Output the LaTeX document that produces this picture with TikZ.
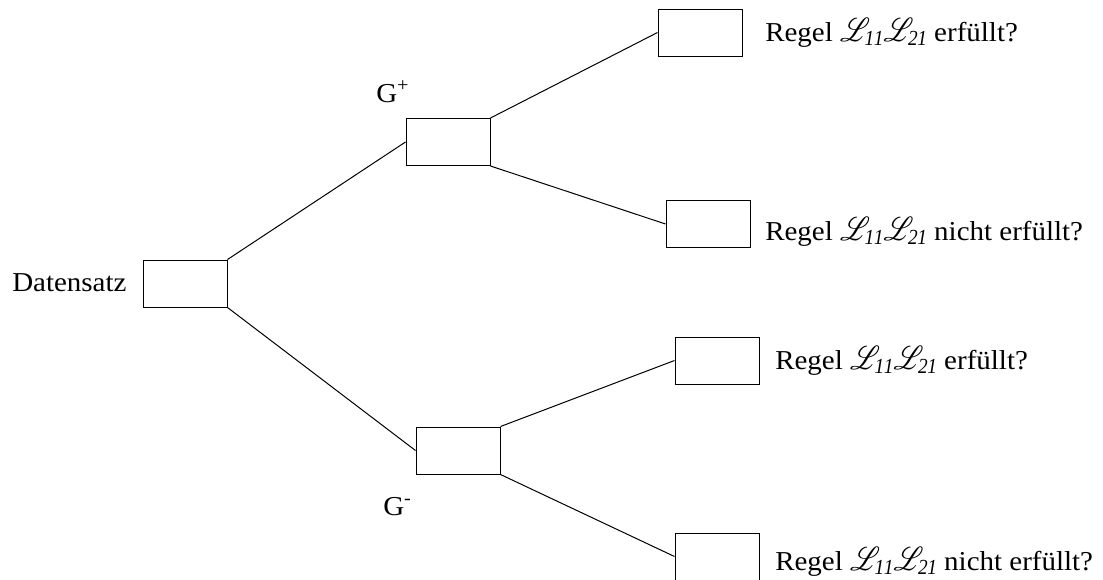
\documentclass[tikz,border=0pt]{standalone}
\usepackage{fontspec}
\setmainfont{Liberation Serif}[FakeStretch=1.06]
\usepackage{mathrsfs}
\newcommand{\regelLL}{Regel \scalebox{0.85}[1]{\fontsize{23}{24}\selectfont$\mathscr{L}_{\mathit{11}}\mathscr{L}_{\mathit{21}}$}}
\begin{document}
\begin{tikzpicture}[x=0.75pt,y=-0.75pt,
  box/.style={draw=black,line width=0.75pt,minimum width=63pt,minimum height=35.25pt,inner sep=0pt},
  edge/.style={draw=black,line width=0.75pt},
  lbl/.style={anchor=base west,inner sep=0pt,font=\fontsize{20.5}{24}\selectfont}]
\useasboundingbox (0,0) rectangle (1103,579);
% tree nodes
\node[box] (d)  at (185,283.5) {};
\node[box] (gp) at (448,142) {};
\node[box] (gm) at (458,450.5) {};
\node[box] (r1) at (700,32.5) {};
\node[box] (r2) at (708,224) {};
\node[box] (r3) at (717,360.5) {};
\node[box] (r4) at (717,556.5) {};
% branches
\draw[edge] (d.north east) -- (gp.west);
\draw[edge] (d.south east) -- (gm.west);
\draw[edge] (gp.north east) -- (r1.west);
\draw[edge] (gp.south east) -- (r2.west);
\draw[edge] (gm.north east) -- (r3.west);
\draw[edge] (gm.south east) -- (r4.west);
% labels
\node[lbl] (ld)  at (12,291) {Datensatz};
\node[lbl] (lgp) at (376,102) {G\textsuperscript{+}};
\node[lbl] (lgm) at (383,515) {G\textsuperscript{-}};
\node[lbl] (t1) at (765,41) {\regelLL{} erfüllt?};
\node[lbl] (t2) at (765,240) {\regelLL{} nicht erfüllt?};
\node[lbl] (t3) at (775,369) {\regelLL{} erfüllt?};
\node[lbl] (t4) at (775,570) {\regelLL{} nicht erfüllt?};
\end{tikzpicture}
\end{document}
